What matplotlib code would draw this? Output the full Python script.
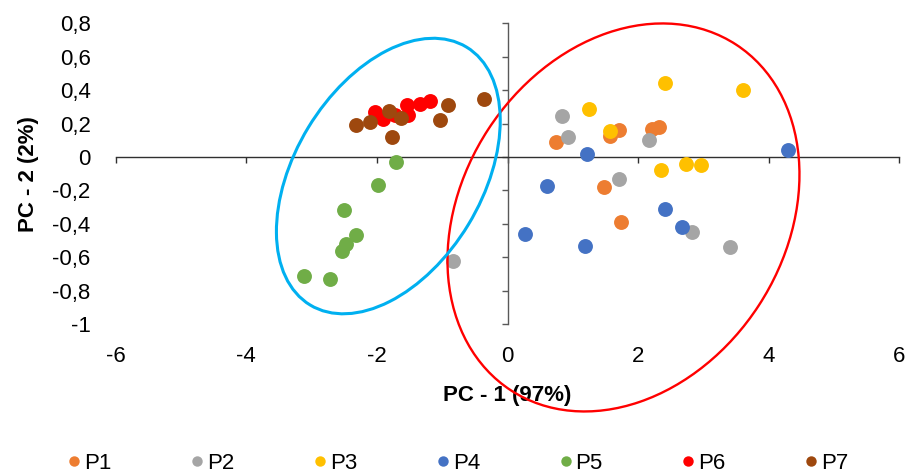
import matplotlib
matplotlib.use("Agg")
import matplotlib.pyplot as plt
from matplotlib.patches import Ellipse
from matplotlib.lines import Line2D
from matplotlib.transforms import Affine2D

plt.rcParams['font.family'] = ['Liberation Sans', 'DejaVu Sans']

# ---- data ----
series_names = ["P1", "P2", "P3", "P4", "P5", "P6", "P7"]
colors = ["#ED7D31", "#A5A5A5", "#FFC000", "#4472C4", "#70AD47", "#FF0000", "#9E480E"]

p1_x = [0.74, 1.57, 1.71, 2.21, 2.32, 1.48, 1.74]
p1_y = [0.09, 0.125, 0.16, 0.165, 0.18, -0.18, -0.39]
p2_x = [0.84, 0.92, 2.17, 1.70, 2.83, 3.40, -0.83]
p2_y = [0.245, 0.12, 0.10, -0.13, -0.45, -0.54, -0.62]
p3_x = [2.41, 3.60, 1.25, 1.57, 2.74, 2.97, 2.35]
p3_y = [0.445, 0.40, 0.285, 0.155, -0.04, -0.045, -0.08]
p4_x = [4.30, 1.21, 0.60, 2.41, 2.67, 0.27, 1.19]
p4_y = [0.04, 0.015, -0.175, -0.31, -0.42, -0.46, -0.53]
p5_x = [-1.71, -1.99, -2.50, -2.32, -2.47, -2.54, -3.11, -2.72]
p5_y = [-0.03, -0.17, -0.32, -0.47, -0.52, -0.56, -0.71, -0.73]
p6_x = [-2.03, -1.90, -1.72, -1.54, -1.52, -1.34, -1.18]
p6_y = [0.27, 0.23, 0.25, 0.31, 0.25, 0.32, 0.335]
p7_x = [-2.32, -2.11, -1.81, -1.63, -1.77, -1.04, -0.91, -0.36]
p7_y = [0.19, 0.21, 0.275, 0.235, 0.12, 0.22, 0.31, 0.35]

xs = [p1_x, p2_x, p3_x, p4_x, p5_x, p6_x, p7_x]
ys = [p1_y, p2_y, p3_y, p4_y, p5_y, p6_y, p7_y]

x_ticks = [-6, -4, -2, 0, 2, 4, 6]
x_tick_labels = ["-6", "-4", "-2", "0", "2", "4", "6"]
y_ticks = [-1, -0.8, -0.6, -0.4, -0.2, 0, 0.2, 0.4, 0.6, 0.8]
y_tick_labels = ["-1", "-0,8", "-0,6", "-0,4", "-0,2", "0", "0,2", "0,4", "0,6", "0,8"]

x_title = "PC - 1 (97%)"
y_title = "PC - 2 (2%)"

# ellipses: centre in data units, semi-axes in pixels, angle in degrees
ell_blue = dict(center=(-1.825, -0.114), a=150.8, b=93.6, angle=58.75, color="#00B0F0", lw=2.2)
ell_red = dict(center=(1.776, -0.362), a=206.3, b=161.4, angle=56.9, color="#FF0000", lw=1.7)

# ---- figure ----
W, H = 908, 475
fig = plt.figure(figsize=(W / 100, H / 100), dpi=100)
pos = [115.7 / W, 1 - 324 / H, 783.6 / W, (324 - 23.4) / H]
xlim = (-6, 6)
ylim = (-1, 0.8)

# label axes (tick labels at the edges)
lab = fig.add_axes(pos)
lab.set_xlim(*xlim)
lab.set_ylim(*ylim)
lab.set_xticks(x_ticks, x_tick_labels)
lab.set_yticks(y_ticks, y_tick_labels)
lab.tick_params(axis='both', length=0, labelsize=16, colors='black')
lab.tick_params(axis='x', pad=16)
lab.tick_params(axis='y', pad=18)
for s in lab.spines.values():
    s.set_visible(False)
lab.patch.set_visible(False)
lab.set_xlabel(x_title, fontsize=16, fontweight='bold', labelpad=13)
lab.set_ylabel(y_title, fontsize=16, fontweight='bold', labelpad=10)

# main axes with axis lines crossing at zero
ax = fig.add_axes(pos)
ax.set_xlim(*xlim)
ax.set_ylim(*ylim)
ax.patch.set_visible(False)
ax.spines['left'].set_position('zero')
ax.spines['bottom'].set_position('zero')
ax.spines['right'].set_visible(False)
ax.spines['top'].set_visible(False)
ax.spines['left'].set_color('#595959')
ax.spines['bottom'].set_color('#303030')
ax.spines['left'].set_linewidth(1.0)
ax.spines['bottom'].set_linewidth(1.0)
ax.set_xticks(x_ticks)
ax.set_yticks(y_ticks)
ax.tick_params(axis='both', direction='out', length=4.5, width=1.0,
               labelbottom=False, labelleft=False)
ax.tick_params(axis='x', color='#303030')
ax.tick_params(axis='y', color='#595959')

for name, c, x, y in zip(series_names, colors, xs, ys):
    ax.scatter(x, y, s=115, color=c, linewidths=0, zorder=3, label=name)

pxx = ax.bbox.width / (xlim[1] - xlim[0])
pxy = ax.bbox.height / (ylim[1] - ylim[0])
for e in (ell_red, ell_blue):
    tr = Affine2D().scale(1 / pxx, 1 / pxy).translate(*e['center']) + ax.transData
    ax.add_patch(Ellipse((0, 0), 2 * e['a'], 2 * e['b'], angle=e['angle'],
                         fill=False, edgecolor=e['color'], linewidth=e['lw'],
                         transform=tr, clip_on=False, zorder=4))

handles = [Line2D([], [], marker='o', linestyle='none', markersize=7.5,
                  markerfacecolor=c, markeredgewidth=0) for c in colors]
fig.legend(handles, series_names, loc='center', bbox_to_anchor=(0.505, 0.024),
           ncol=7, frameon=False, fontsize=16, handlelength=0.5,
           handletextpad=0.2, columnspacing=3.6, borderpad=0)

fig.savefig("out.png", dpi=100)
